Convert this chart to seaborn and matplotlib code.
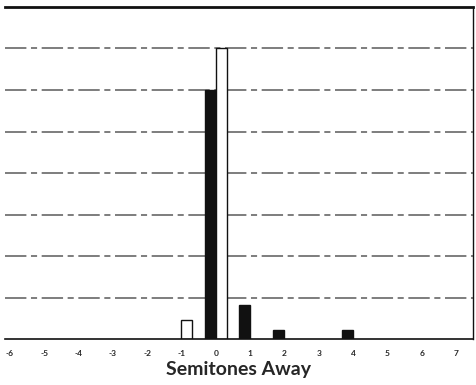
import numpy as np
import pandas as pd
import seaborn as sns
import matplotlib.pyplot as plt

semitones = [-6, -5, -4, -3, -2, -1, 0, 1, 2, 3, 4, 5, 6, 7]

# values (percent of responses)
black_x = [0, 1, 2, 4]
black_y = [60, 8.2, 2.2, 2.2]
white_x = [-1, 0]
white_y = [4.5, 70]

df = pd.concat([
    pd.DataFrame({"semitones": black_x, "pct": black_y, "series": "black"}),
    pd.DataFrame({"semitones": white_x, "pct": white_y, "series": "white"}),
])

sns.set_style("white")
plt.rcParams["font.family"] = ["Lato", "DejaVu Sans"]

fig = plt.figure(figsize=(4.76, 3.85), dpi=100)
ax = fig.add_axes([0.01, 0.119, 0.984, 0.863])

for g in range(10, 80, 10):
    ax.axhline(g, color="#5a5a5a", lw=1.1, ls=(0, (14, 3, 4, 3)), zorder=0)

sns.barplot(data=df, x="semitones", y="pct", hue="series", order=semitones,
            hue_order=["black", "white"], palette={"black": "#111111", "white": "white"},
            width=0.64, gap=0, dodge=True, edgecolor="#111111", linewidth=1.0,
            legend=False, ax=ax, zorder=2)

ax.set_xlim(-0.15, 13.5)
ax.set_ylim(0, 80)
ax.set_yticks([])
ax.set_xticks(range(len(semitones)))
ax.set_xticklabels([str(s) for s in semitones], fontsize=6, fontweight="bold")
ax.tick_params(axis="x", length=0, pad=8)
ax.set_ylabel("")
ax.set_xlabel("Semitones Away", fontsize=14, fontweight="bold", labelpad=3)

ax.spines["left"].set_visible(False)
ax.spines["top"].set_linewidth(2.0)
ax.spines["right"].set_linewidth(1.0)
ax.spines["bottom"].set_linewidth(1.2)
for s in ax.spines.values():
    s.set_color("#111111")

fig.savefig("out.png", dpi=100)
